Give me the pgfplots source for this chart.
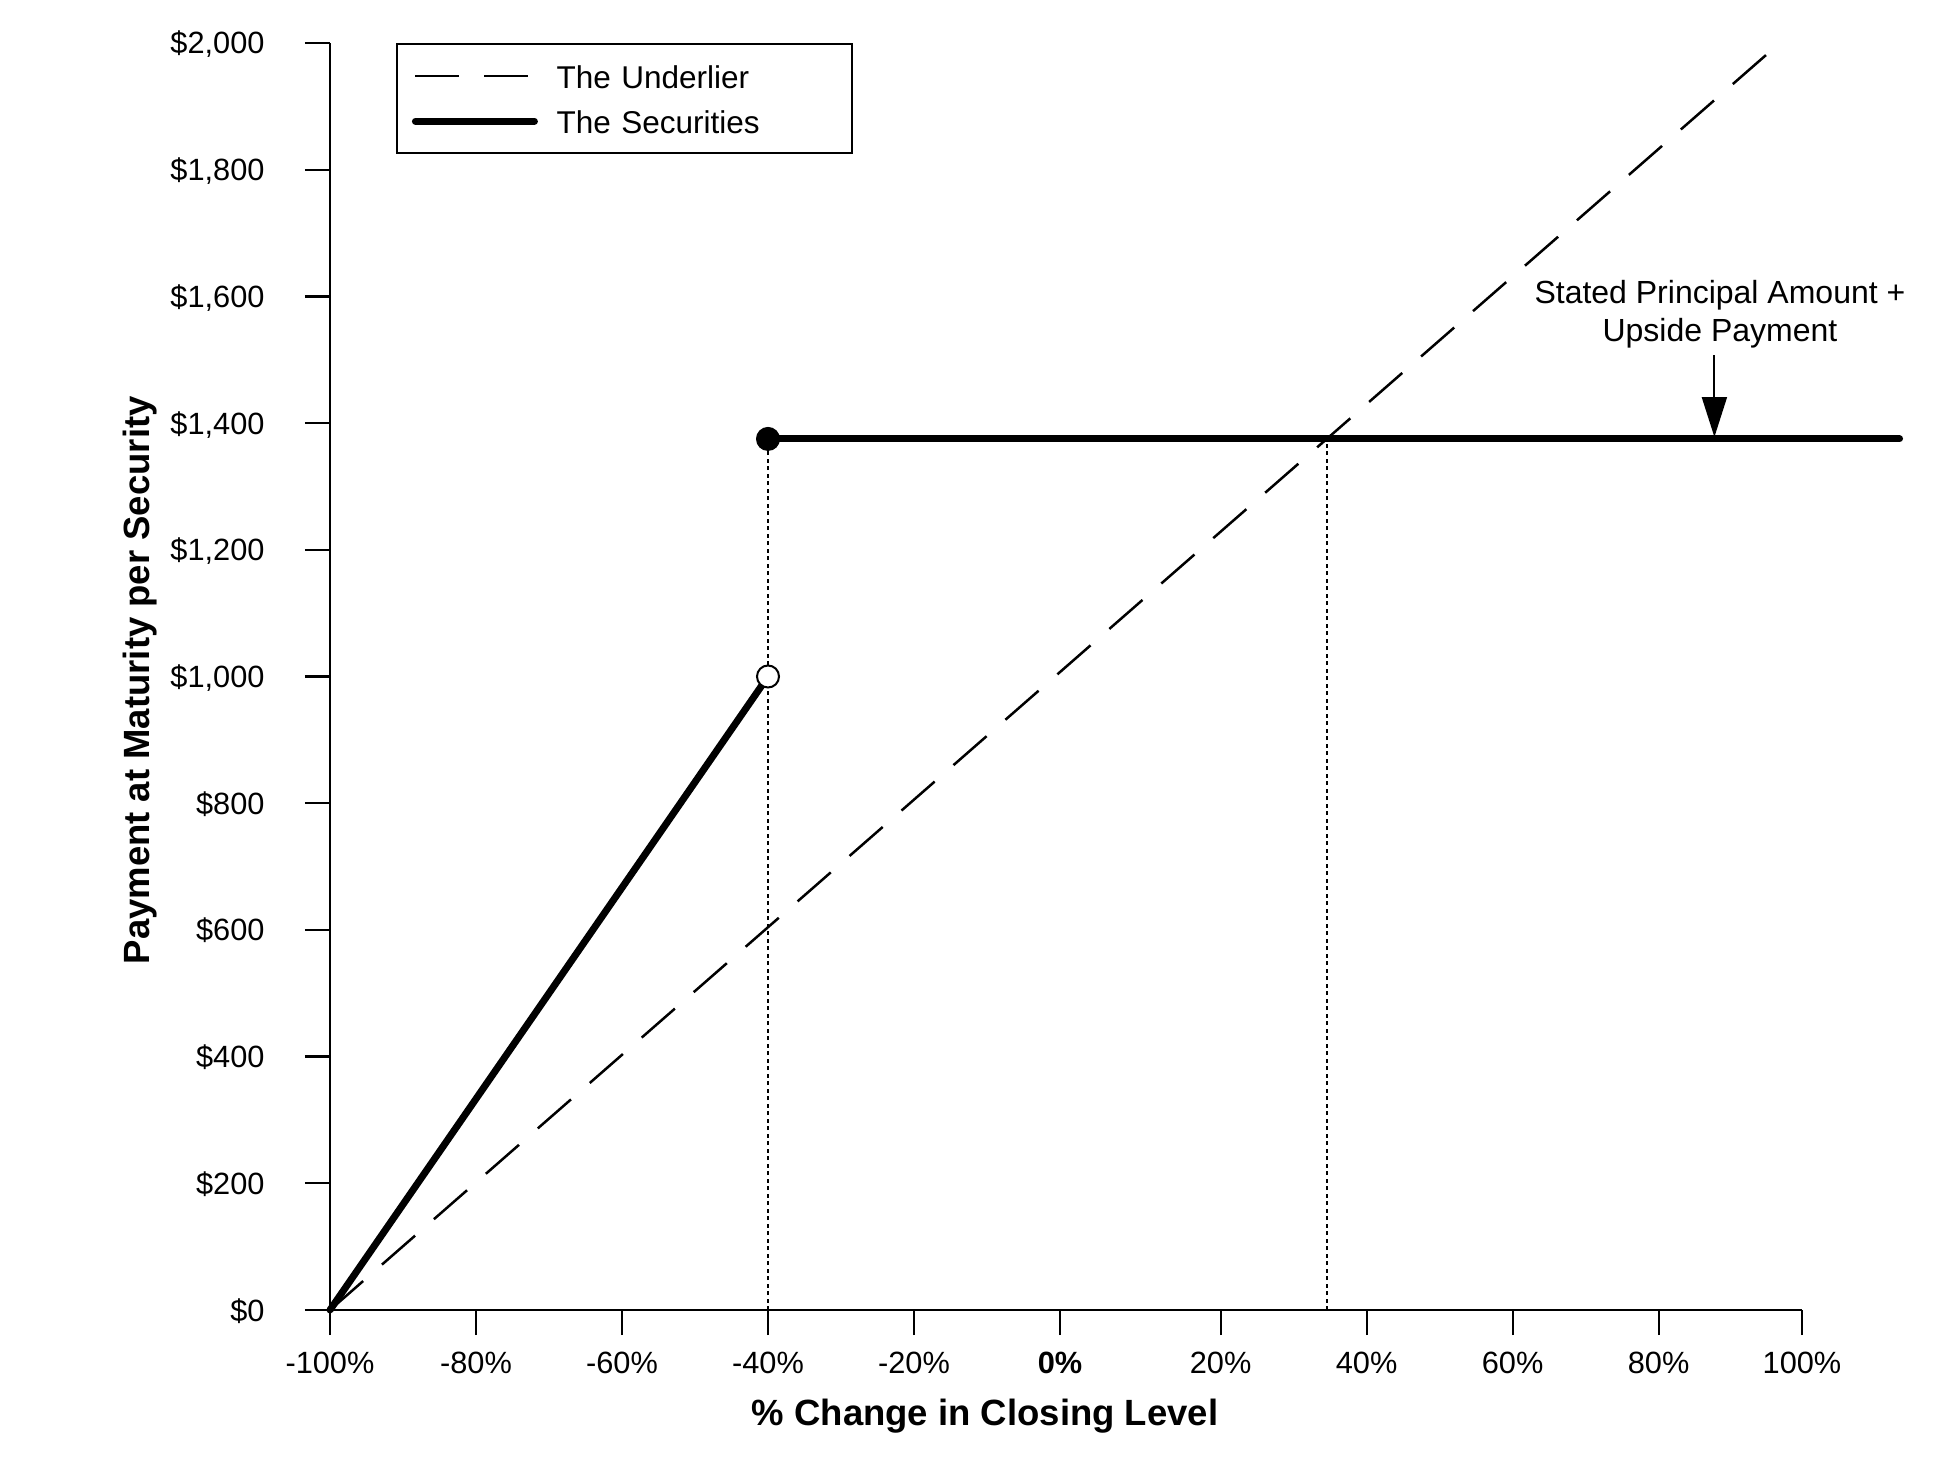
\documentclass[border=0pt]{standalone}
\usepackage{fontspec}
\setmainfont{Liberation Sans}
\usepackage{pgfplots}
\pgfplotsset{compat=1.18}
\usetikzlibrary{arrows.meta}

\begin{document}
\begin{tikzpicture}
\begin{axis}[
  scale only axis, width=588.8pt, height=506.8pt,
  xmin=-100, xmax=101.64, ymin=0, ymax=2000,
  axis lines*=left,
  axis line style={line width=0.9pt},
  tick align=outside,
  major tick length=10pt,
  every tick/.style={black,line width=0.9pt},
  xtick={-100,-80,-60,-40,-20,0,22,42,62,82,101.64},
  xticklabels={-100\%,-80\%,-60\%,-40\%,-20\%,\textbf{0\%},20\%,40\%,60\%,80\%,100\%},
  ytick={0,200,...,2000},
  yticklabels={\$0,\$200,\$400,\$600,\$800,{\$1,000},{\$1,200},{\$1,400},{\$1,600},{\$1,800},{\$2,000}},
  tick label style={font=\fontsize{12.3}{14}\selectfont},
  xticklabel style={anchor=base, yshift=-15.2pt},
  yticklabel style={anchor=base east, inner sep=0pt, xshift=-16pt, yshift=-4.4pt},
  xlabel={\% Change in Closing Level},
  ylabel={Payment at Maturity per Security},
  label style={font=\bfseries\fontsize{14.6}{17}\selectfont},
  xlabel style={at={(axis description cs:0.445,-0.0912)}, anchor=base},
  ylabel style={at={(axis description cs:-0.1223,0.497)}, anchor=base},
  clip=false,
  legend style={at={(axis description cs:0.0448,1)}, anchor=north west, draw=black, line width=0.8pt,
    inner xsep=6pt, inner ysep=6.8pt, row sep=5.8pt, font=\fontsize{12.6}{15}\selectfont,
    nodes={inner sep=0pt, text height=11pt, text depth=1.2pt, text width=112.2pt, align=left},
    /tikz/every odd column/.append style={column sep=7.5pt}},
  legend cell align=left,
  legend image code/.code={\draw[#1] (0pt,0pt) -- (47.6pt,0pt);},
]
% dotted reference lines
\addplot[black, line width=0.8pt, dash pattern=on 1.6pt off 1.4pt, forget plot] coordinates {(-40,0) (-40,1375)};
\addplot[black, line width=0.8pt, dash pattern=on 1.6pt off 1.4pt, forget plot] coordinates {(36.6,0) (36.6,1375)};
% underlier
\addplot[black, line width=1pt, dash pattern=on 17.6pt off 10pt] coordinates {(-100,0) (98.6,2000)};
\addlegendentry{The Underlier}
% securities
\addplot[black, line width=2.8pt, line cap=round] coordinates {(-40,1375) (115,1375)};
\addlegendentry{The Securities}
\addplot[black, line width=2.8pt, line cap=round, forget plot] coordinates {(-100,0) (-40,1000)};
% markers
\addplot[only marks, mark=*, mark size=4.6pt, black, forget plot] coordinates {(-40,1375)};
\addplot[only marks, mark=*, mark size=4.4pt, mark options={fill=white, draw=black, line width=0.8pt}, forget plot] coordinates {(-40,1000)};
% annotation
\draw[black, line width=0.8pt, -{Triangle[length=16pt,width=10pt]}] (axis cs:89.64,1507) -- (axis cs:89.64,1378);
\node[anchor=base, font=\fontsize{12.8}{15}\selectfont] at (axis cs:90.4,1589) {Stated Principal Amount +};
\node[anchor=base, font=\fontsize{12.8}{15}\selectfont] at (axis cs:90.4,1529) {Upside Payment};
\end{axis}
\pgfresetboundingbox
\path (current axis.south west) ++(-132pt,-60.4pt) rectangle ++(775.6pt,584.4pt);
\end{tikzpicture}
\end{document}
